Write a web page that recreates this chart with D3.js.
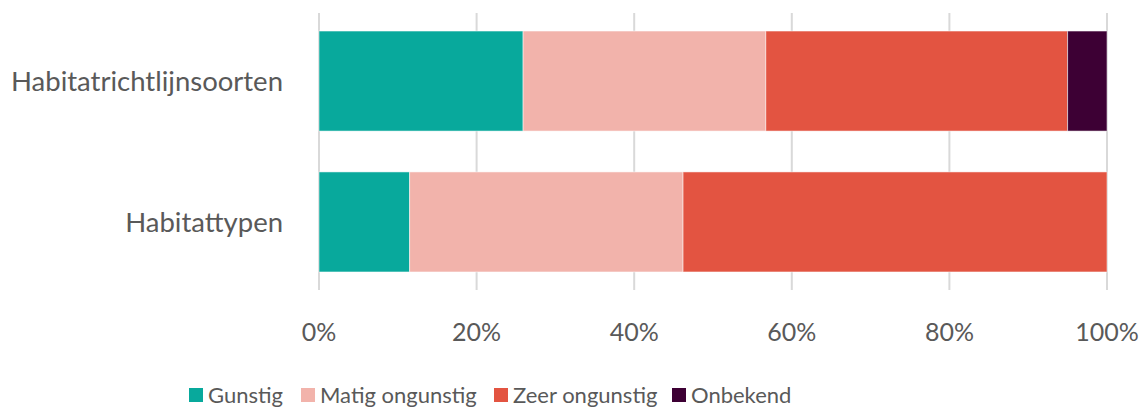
<!DOCTYPE html>
<html>
<head>
<meta charset="utf-8">
<script src="https://cdn.jsdelivr.net/npm/d3@7"></script>
<style>
  body { margin: 0; background: #fff; }
  text { font-family: Lato, "Open Sans", sans-serif; fill: #595959; }
</style>
</head>
<body>
<svg width="1142" height="410"></svg>
<script>
const categories = ["Habitatrichtlijnsoorten", "Habitattypen"];
const seriesNames = ["Gunstig", "Matig ongunstig", "Zeer ongunstig", "Onbekend"];
const gunstig = [25.9, 11.5];
const matig = [30.8, 34.7];
const zeer = [38.3, 53.8];
const onbekend = [5.0, 0];
const tickValues = [0, 20, 40, 60, 80, 100];
const colors = ["#08a99c", "#f2b3ab", "#e35441", "#3d0034"];

const svg = d3.select("svg");
const margin = { left: 319, right: 35, top: 13, bottom: 120 };
const width = 1142, height = 410;

const x = d3.scaleLinear().domain([0, 100]).range([margin.left, width - margin.right]);
const y = d3.scaleBand().domain(categories).range([13, 290]).paddingInner(0.29).paddingOuter(0.128);

// gridlines
svg.append("g")
  .selectAll("line")
  .data(tickValues)
  .enter()
  .append("line")
  .attr("x1", (d) => x(d))
  .attr("x2", (d) => x(d))
  .attr("y1", 13)
  .attr("y2", 290)
  .attr("stroke", "#d9d9d9")
  .attr("stroke-width", 2);

// stacked data
const rows = categories.map((c, i) => ({
  cat: c,
  Gunstig: gunstig[i],
  "Matig ongunstig": matig[i],
  "Zeer ongunstig": zeer[i],
  Onbekend: onbekend[i],
}));
const stacked = d3.stack().keys(seriesNames)(rows);

svg.append("g")
  .selectAll("g")
  .data(stacked)
  .enter()
  .append("g")
  .attr("fill", (d, i) => colors[i])
  .selectAll("rect")
  .data((d) => d.filter((p) => p[1] - p[0] > 0))
  .enter()
  .append("rect")
  .attr("x", (d) => x(d[0]))
  .attr("width", (d) => x(d[1]) - x(d[0]))
  .attr("y", (d) => y(d.data.cat))
  .attr("height", y.bandwidth())
  .attr("stroke", "#fff")
  .attr("stroke-opacity", 0.5)
  .attr("stroke-width", 1);

// category labels
svg.append("g")
  .selectAll("text")
  .data(categories)
  .enter()
  .append("text")
  .attr("x", 283)
  .attr("y", (d) => y(d) + y.bandwidth() / 2)
  .attr("dy", "0.35em")
  .attr("text-anchor", "end")
  .attr("font-size", 27.5)
  .text((d) => d);

// x tick labels
svg.append("g")
  .selectAll("text")
  .data(tickValues)
  .enter()
  .append("text")
  .attr("x", (d) => x(d))
  .attr("y", 341)
  .attr("text-anchor", "middle")
  .attr("font-size", 25)
  .text((d) => d + "%");

// legend
const legendX = [189, 301, 494, 672];
const legend = svg.append("g")
  .selectAll("g")
  .data(seriesNames)
  .enter()
  .append("g")
  .attr("transform", (d, i) => `translate(${legendX[i]},388)`);

legend.append("rect")
  .attr("width", 14)
  .attr("height", 14)
  .attr("fill", (d, i) => colors[i]);

legend.append("text")
  .attr("x", 19)
  .attr("y", 7)
  .attr("dy", "0.35em")
  .attr("font-size", 22)
  .text((d) => d);
</script>
</body>
</html>
